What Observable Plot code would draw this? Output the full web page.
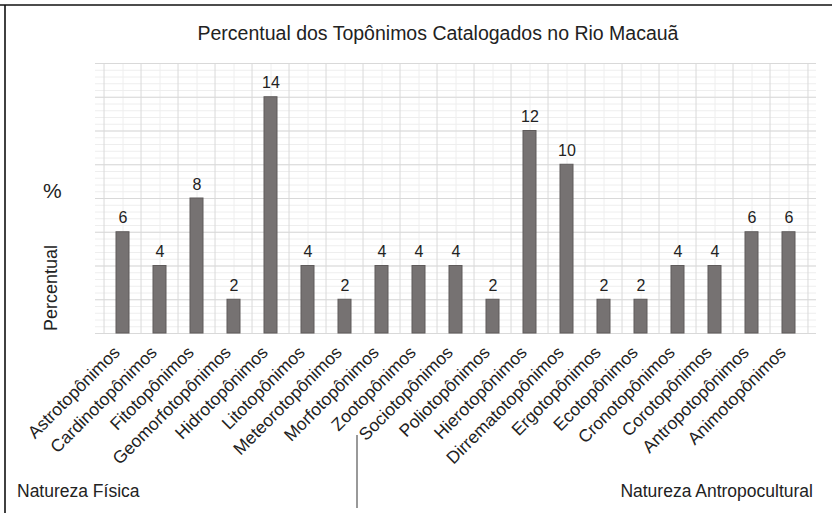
<!DOCTYPE html>
<html><head><meta charset="utf-8">
<script src="https://cdn.jsdelivr.net/npm/d3@7"></script>
<script src="https://cdn.jsdelivr.net/npm/@observablehq/plot@0.6"></script>
<style>body{margin:0;background:#fff;overflow:hidden} svg{display:block}</style>
</head><body><div id="chart"></div>
<script>
const categories = ["Astrotopônimos","Cardinotopônimos","Fitotopônimos","Geomorfotopônimos","Hidrotopônimos","Litotopônimos","Meteorotopônimos","Morfotopônimos","Zootopônimos","Sociotopônimos","Poliotopônimos","Hierotopônimos","Dirrematotopônimos","Ergotopônimos","Ecotopônimos","Cronotopônimos","Corotopônimos","Antropotopônimos","Animotopônimos"];
const values = [6,4,8,2,14,4,2,4,4,4,2,12,10,2,2,4,4,6,6];
const title = "Percentual dos Topônimos Catalogados no Rio Macauã";
const yLabel = "Percentual";
const yUnit = "%";
const groupLeft = "Natureza Física";
const groupRight = "Natureza Antropocultural";

const data = categories.map((c, i) => ({cat: c, value: values[i]}));
const W = 832, H = 513;
const mL = 95, mR = 16, mT = 63, mB = 180;
const step = (W - mL - mR) / categories.length;
const font = "'Liberation Sans', Arial, sans-serif";

const chart = Plot.plot({
  width: W, height: H,
  marginLeft: mL, marginRight: mR, marginTop: mT, marginBottom: mB,
  style: {fontFamily: font, background: "#fff", color: "#222"},
  x: {domain: categories, paddingInner: 0.66, paddingOuter: 0.33, label: null},
  y: {domain: [0, 16], axis: null},
  marks: [
    Plot.ruleY(d3.range(0, 16.001, 0.4), {stroke: "#eeeeee", strokeWidth: 1}),
    Plot.gridX({stroke: "#eeeeee", strokeOpacity: 1}),
    Plot.ruleY(d3.range(0, 17, 2), {stroke: "#d9d9d9", strokeWidth: 1}),
    Plot.ruleX(categories, {x: d => d, dx: -step / 2, stroke: "#d9d9d9", y1: 0, y2: 16}),
    Plot.ruleX(categories.slice(-1), {x: d => d, dx: step / 2, stroke: "#d9d9d9", y1: 0, y2: 16}),
    Plot.barY(data, {x: "cat", y: "value", fill: "#767272", stroke: "#5f5b5b", strokeWidth: 1}),
    Plot.text(data, {x: "cat", y: "value", text: d => String(d.value), dy: -9, lineAnchor: "bottom", fontSize: 16, fill: "#222"}),
    Plot.axisX({tickSize: 0, tickPadding: 16, dx: -6, tickRotate: -45, fontSize: 17.5, label: null, fill: "#222"})
  ]
});

const svg = d3.select(chart);
function addText(x, y, str, size, anchor, transform) {
  const t = svg.append("text").attr("font-size", size).attr("fill", "#222")
    .attr("font-family", font).attr("text-anchor", anchor).text(str);
  if (transform) t.attr("transform", transform); else t.attr("x", x).attr("y", y);
  return t;
}
svg.append("line").attr("x1", 0).attr("x2", W).attr("y1", 5).attr("y2", 5).attr("stroke", "#111").attr("stroke-width", 1.6);
svg.append("line").attr("x1", 5).attr("x2", 5).attr("y1", 5).attr("y2", H).attr("stroke", "#111").attr("stroke-width", 1.6);
addText(438, 40, title, 19.5, "middle");
addText(43, 198, yUnit, 21, "start");
addText(0, 0, yLabel, 18, "middle", "translate(57,288) rotate(-90)");
addText(17, 497, groupLeft, 17.5, "start");
addText(813, 497, groupRight, 17.5, "end");
svg.append("line").attr("x1", 357).attr("x2", 357).attr("y1", 435).attr("y2", 508).attr("stroke", "#555").attr("stroke-width", 1.2);

document.getElementById("chart").appendChild(chart);
</script>
</body></html>
